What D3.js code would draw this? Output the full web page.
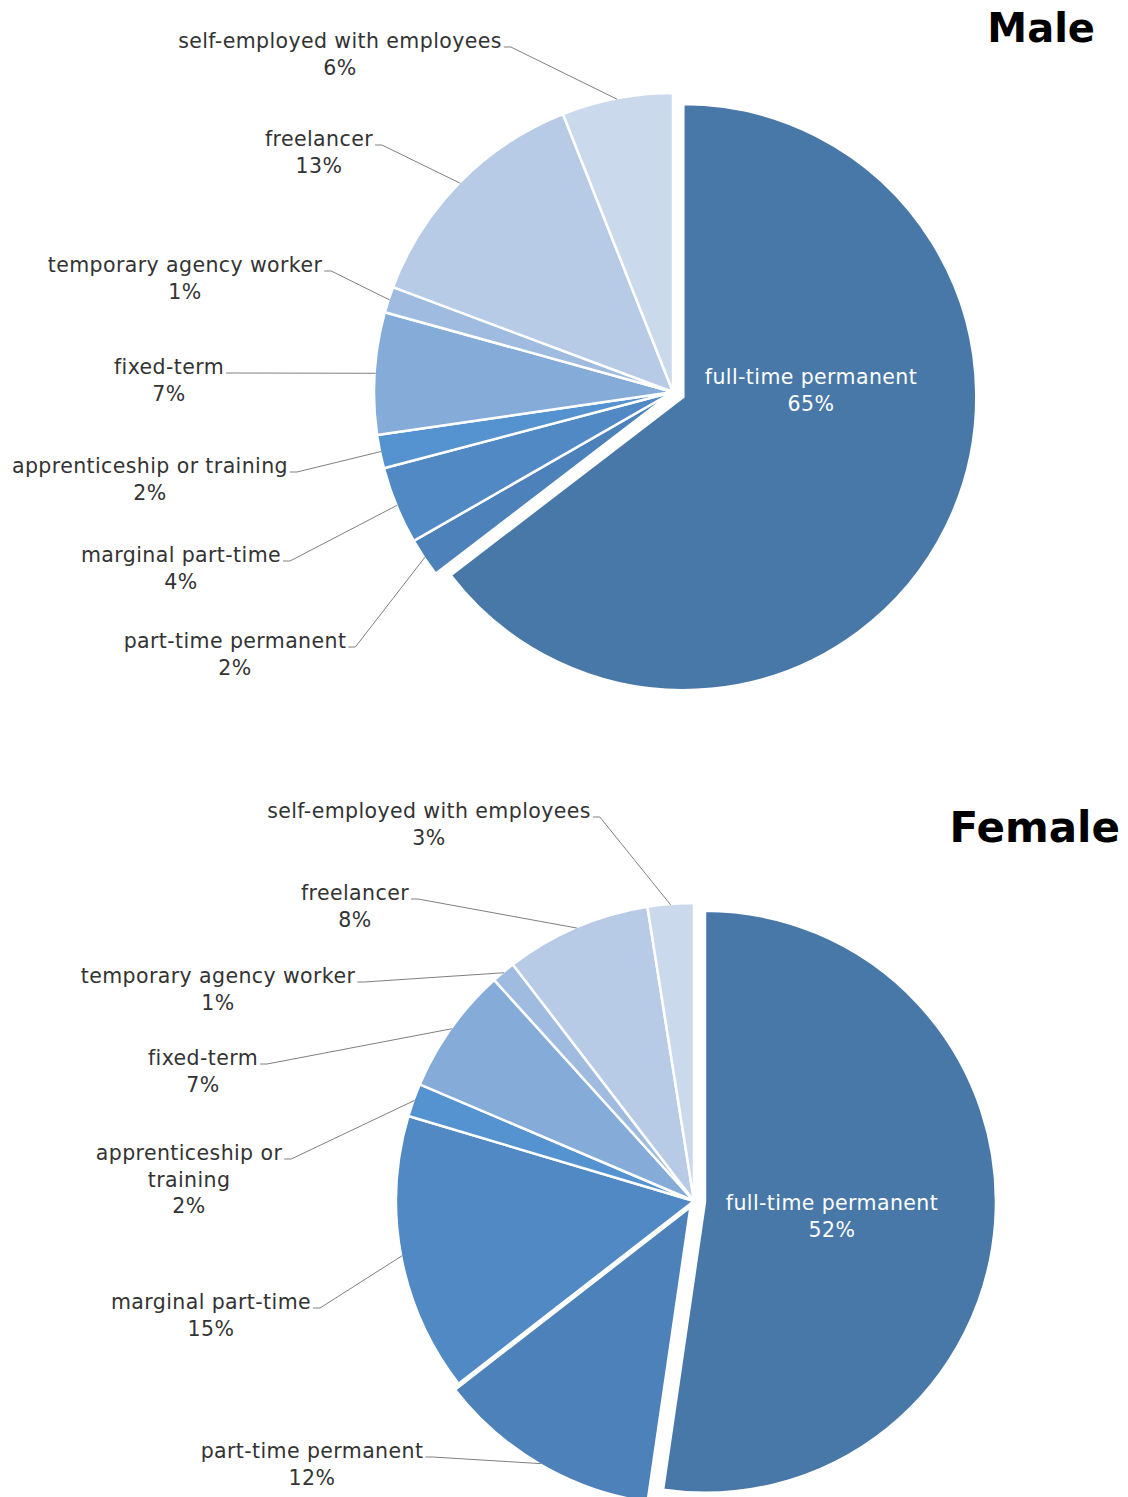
<!DOCTYPE html>
<html>
<head>
<meta charset="utf-8">
<script src="https://cdn.jsdelivr.net/npm/d3@7"></script>
<style>
  html, body { margin: 0; padding: 0; background: #fff; }
  svg { display: block; }
</style>
</head>
<body>
<script>
// ---------- DATA ----------
const categories = [
  "full-time permanent",
  "part-time permanent",
  "marginal part-time",
  "apprenticeship or training",
  "fixed-term",
  "temporary agency worker",
  "freelancer",
  "self-employed with employees"
];
const maleValues   = [64.6, 2.1, 4.2, 1.8, 6.6, 1.4, 13.3, 6.0];
const femaleValues = [52.3, 12.2, 15.1, 1.8, 6.9, 1.3, 7.9, 2.5];
const panelTitles  = ["Male", "Female"];

// ---------- STYLE / LAYOUT ----------
const colors = ["#4878a8", "#4c81b9", "#5189c4", "#5593d0", "#85acd9", "#a0bbe0", "#b7cbe6", "#cbd9ec"];
const W = 1128, H = 1497;
const fontFamily = "'DejaVu Sans', Verdana, sans-serif";
const labelSize = 20.5, lineGap = 26.5, letterSpacing = 0.4;

const panels = [
  {
    values: maleValues, title: panelTitles[0],
    titleX: 1095, titleY: 42, titleSize: 40,
    cx: 673, cy: 392, r: 299,
    radius: {0: 293}, explode: {0: 11.5},
    labels: [
      {x: 811, y: 384, inside: true},
      {x: 235, y: 648},
      {x: 181, y: 562},
      {x: 150, y: 473},
      {x: 169, y: 374},
      {x: 185, y: 272},
      {x: 319, y: 146},
      {x: 340, y: 48}
    ]
  },
  {
    values: femaleValues, title: panelTitles[1],
    titleX: 1120, titleY: 842, titleSize: 42,
    cx: 694, cy: 1201, r: 298,
    radius: {0: 291}, explode: {0: 11, 1: 7},
    labels: [
      {x: 832, y: 1210, inside: true},
      {x: 312, y: 1458},
      {x: 211, y: 1309},
      {x: 189, y: 1160, lines: ["apprenticeship or", "training"]},
      {x: 203, y: 1065},
      {x: 218, y: 983},
      {x: 355, y: 900},
      {x: 429, y: 818}
    ]
  }
];

// ---------- DRAW ----------
const svg = d3.select("body").append("svg")
  .attr("width", W).attr("height", H)
  .attr("font-family", fontFamily);
svg.append("rect").attr("width", W).attr("height", H).attr("fill", "#fff");

const pct = v => d3.format(".0f")(v) + "%";
const lineGen = d3.line();

panels.forEach(cfg => {
  const g = svg.append("g");
  const arcs = d3.pie().sort(null).value(d => d)(cfg.values);
  const gSlices = g.append("g");
  const gLeaders = g.append("g");
  const gLabels = g.append("g");

  arcs.forEach((a, i) => {
    const mid = (a.startAngle + a.endAngle) / 2;
    const d = cfg.explode[i] || 0;
    const ox = cfg.cx + Math.sin(mid) * d;
    const oy = cfg.cy - Math.cos(mid) * d;
    const r = cfg.radius[i] !== undefined ? cfg.radius[i] : cfg.r;
    const arc = d3.arc().innerRadius(0).outerRadius(r);

    gSlices.append("path")
      .attr("d", arc(a))
      .attr("transform", `translate(${ox},${oy})`)
      .attr("fill", colors[i])
      .attr("stroke", "#fff")
      .attr("stroke-width", 2.5)
      .attr("stroke-linejoin", "round");

    const lab = cfg.labels[i];
    const lines = (lab.lines || [categories[i]]).concat([pct(cfg.values[i])]);
    const t = gLabels.append("text")
      .attr("text-anchor", "middle")
      .attr("font-size", labelSize)
      .attr("letter-spacing", letterSpacing)
      .attr("fill", lab.inside ? "#ffffff" : "#333333");
    lines.forEach((s, k) => {
      t.append("tspan").attr("x", lab.x).attr("y", lab.y + k * lineGap).text(s);
    });

    if (!lab.inside) {
      const w = t.select("tspan").node().getComputedTextLength();
      const sx = lab.x + w / 2 + 2, sy = lab.y - 1;
      const ex = ox + Math.sin(mid) * (r - 1);
      const ey = oy - Math.cos(mid) * (r - 1);
      gLeaders.append("path")
        .attr("d", lineGen([[sx, sy], [sx + 7, sy], [ex, ey]]))
        .attr("fill", "none")
        .attr("stroke", "#808080")
        .attr("stroke-width", 1);
    }
  });

  g.append("text")
    .attr("x", cfg.titleX).attr("y", cfg.titleY)
    .attr("text-anchor", "end")
    .attr("font-size", cfg.titleSize)
    .attr("font-weight", "bold")
    .attr("fill", "#000")
    .text(cfg.title);
});
</script>
</body>
</html>
